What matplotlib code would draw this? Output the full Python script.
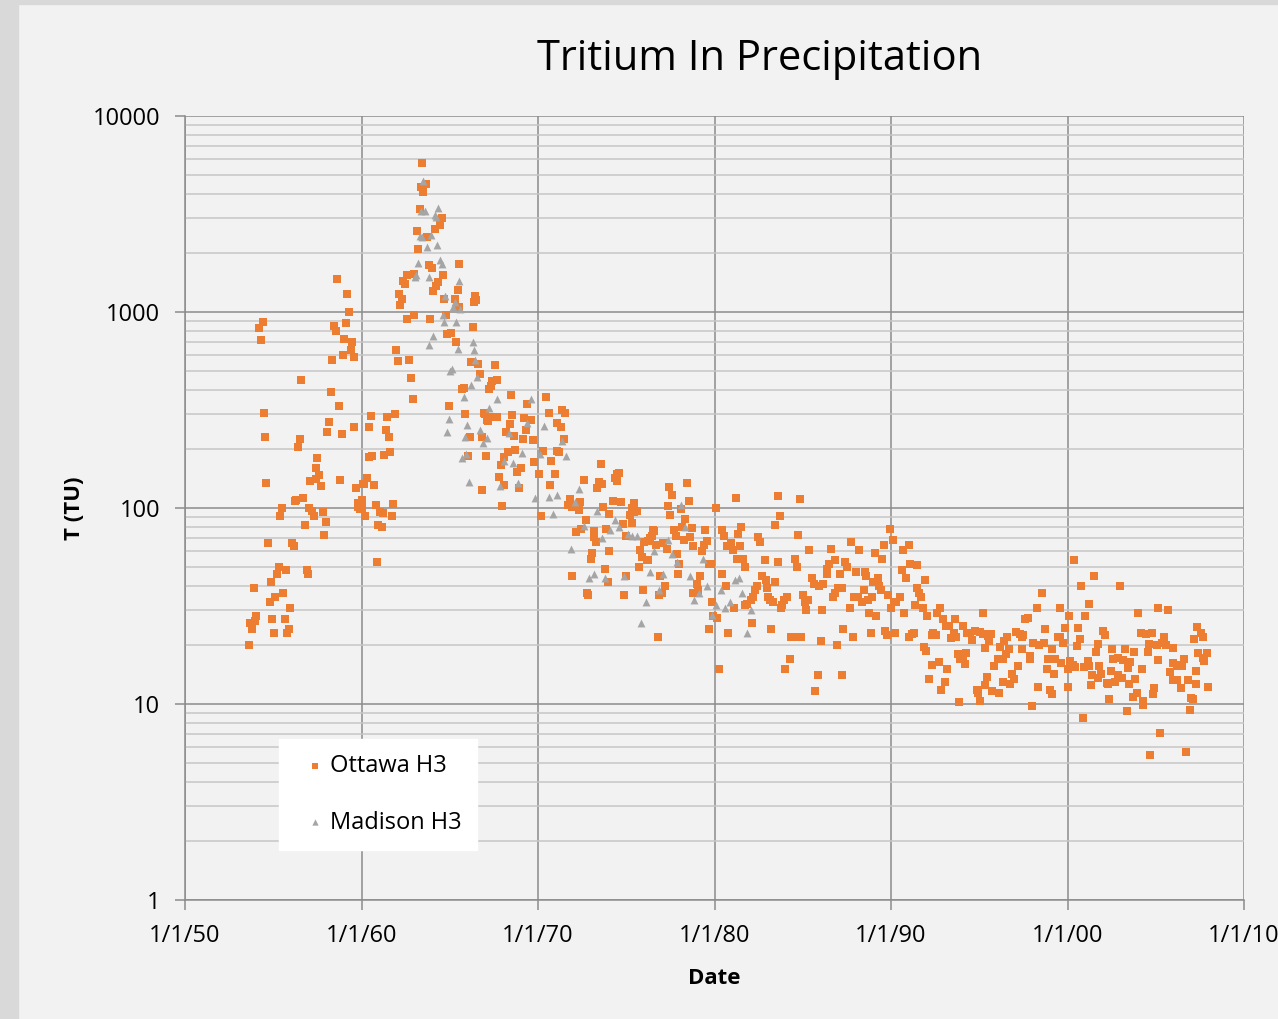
import numpy as np
import matplotlib
matplotlib.use("Agg")
import matplotlib.pyplot as plt
from matplotlib.patches import Rectangle
from matplotlib.ticker import FixedLocator, NullFormatter

plt.rcParams['font.family'] = ['Open Sans', 'DejaVu Sans']

# Ottawa H3 (decimal year, TU)
ottawa = [
    (1958.6, 1470), (1959.2, 1240), (1959.3, 1000), (1954.4, 890), (1954.2, 830), (1954.3, 722),
    (1958.45, 850), (1958.57, 800), (1959.1, 880), (1959.0, 725), (1959.45, 700), (1959.4, 640),
    (1958.95, 600), (1959.55, 590), (1958.35, 570), (1956.6, 450), (1958.3, 390), (1958.7, 330),
    (1954.45, 307), (1958.15, 275), (1958.05, 245), (1958.9, 238), (1959.6, 260), (1954.55, 230),
    (1956.5, 225), (1956.4, 205), (1957.5, 180), (1957.4, 160), (1957.6, 148), (1957.1, 138),
    (1957.45, 140), (1957.7, 130), (1958.8, 139), (1954.6, 134), (1956.7, 113), (1956.25, 108),
    (1956.3, 110), (1959.7, 127), (1960.1, 132), (1960.05, 110), (1959.8, 106), (1959.8, 101),
    (1959.9, 99), (1960.2, 91), (1955.5, 100), (1955.4, 91), (1957.05, 100), (1957.2, 97),
    (1957.3, 91), (1957.8, 95), (1956.8, 82), (1958.0, 85), (1957.9, 73), (1954.7, 66),
    (1956.05, 66), (1956.15, 64), (1955.3, 50), (1955.7, 48), (1955.2, 46), (1956.9, 48),
    (1956.95, 46), (1954.9, 42), (1953.9, 39), (1955.55, 37), (1955.1, 35), (1954.8, 33),
    (1955.95, 31), (1954.05, 28), (1953.95, 26.5), (1953.7, 26), (1954.95, 27), (1955.65, 27),
    (1953.8, 24), (1955.9, 24), (1955.8, 23), (1955.05, 23), (1953.6, 20),
    # 1960s peak
    (1963.45, 5780), (1963.35, 4360), (1963.65, 4520), (1963.5, 4110), (1963.3, 3340), (1964.55, 3020),
    (1964.45, 2790), (1964.15, 2640), (1963.15, 2580), (1963.7, 2410), (1963.2, 2100), (1963.8, 1740),
    (1964.0, 1680), (1965.55, 1760), (1962.55, 1550), (1962.35, 1440), (1962.45, 1390), (1963.0, 1560),
    (1964.6, 1540), (1964.35, 1420), (1964.2, 1360), (1964.05, 1280), (1965.45, 1300), (1962.1, 1240),
    (1962.3, 1170), (1962.2, 1090), (1964.7, 1160), (1965.3, 1160), (1965.55, 1060), (1966.45, 1200),
    (1966.5, 1150), (1966.4, 1120), (1962.95, 970), (1962.6, 920), (1963.9, 920), (1964.8, 970),
    (1966.3, 840), (1964.85, 770), (1965.05, 785), (1965.35, 700), (1961.95, 640), (1962.05, 560),
    (1962.7, 570), (1966.2, 555), (1966.6, 545), (1966.7, 485), (1962.8, 460), (1965.7, 405),
    (1965.8, 410), (1967.2, 405), (1962.9, 360), (1964.95, 333), (1960.55, 295), (1961.45, 290),
    (1961.9, 300), (1965.85, 300), (1967.0, 300), (1967.1, 280), (1960.45, 260), (1961.4, 250),
    (1961.55, 230), (1966.15, 230), (1966.8, 230), (1960.4, 181), (1960.6, 184), (1961.3, 187),
    (1961.6, 193), (1966.05, 184), (1967.05, 184), (1960.3, 143), (1960.15, 132), (1960.7, 131),
    (1966.85, 124), (1960.0, 100), (1960.8, 104), (1961.8, 105), (1961.05, 95), (1961.2, 94),
    (1961.7, 91), (1960.95, 82), (1961.15, 80), (1960.9, 53),
    # late 1960s - early 1970s
    (1967.55, 537), (1967.65, 451), (1967.4, 446), (1967.35, 420), (1968.45, 376), (1970.45, 368),
    (1969.35, 340), (1966.95, 304), (1967.15, 279), (1967.35, 291), (1967.7, 291), (1968.55, 297),
    (1970.6, 306), (1971.35, 318), (1971.55, 304), (1968.4, 268), (1969.2, 289), (1969.6, 281),
    (1971.1, 270), (1971.3, 259), (1969.3, 249), (1968.2, 243), (1968.65, 234), (1969.15, 224),
    (1969.7, 222), (1971.45, 225), (1968.7, 197), (1968.3, 193), (1970.3, 195), (1971.05, 196),
    (1971.2, 192), (1968.1, 182), (1967.9, 165), (1969.75, 172), (1970.75, 174), (1969.05, 160),
    (1968.8, 152), (1970.05, 149), (1970.97, 149), (1967.8, 144), (1972.6, 139), (1973.55, 168),
    (1973.45, 135), (1973.65, 132), (1973.35, 127), (1968.05, 131), (1968.9, 126), (1970.7, 131),
    (1971.8, 111), (1971.7, 103), (1971.9, 101), (1972.4, 107), (1972.3, 98), (1967.95, 102),
    (1973.7, 101), (1974.0, 93), (1970.15, 91), (1972.7, 87), (1972.15, 75), (1972.45, 78),
    (1973.85, 78), (1973.2, 76), (1973.15, 71), (1973.3, 67), (1973.05, 59), (1973.0, 55),
    (1974.0, 60), (1973.8, 49), (1971.95, 45), (1972.8, 37), (1972.85, 36),
    # 1974 - 1980
    (1974.45, 149), (1974.6, 151), (1974.35, 142), (1974.5, 138), (1977.45, 128), (1977.6, 116),
    (1978.45, 134), (1974.25, 108), (1974.7, 107), (1975.45, 106), (1975.35, 100), (1975.6, 97),
    (1975.45, 95), (1977.35, 102), (1977.5, 92), (1978.55, 108), (1975.2, 92), (1975.3, 84),
    (1980.1, 100), (1978.1, 99), (1978.35, 88), (1978.15, 80), (1978.7, 79), (1974.8, 83),
    (1976.5, 77), (1976.6, 76), (1976.45, 72), (1976.35, 70), (1977.7, 77), (1977.8, 72),
    (1979.45, 77), (1980.45, 77), (1980.55, 72), (1975.0, 72), (1978.25, 69), (1978.6, 71),
    (1979.55, 68), (1976.0, 67), (1976.25, 68), (1976.7, 65), (1977.1, 66), (1977.3, 62),
    (1978.8, 64), (1979.3, 60), (1979.4, 65), (1980.7, 64), (1975.8, 61), (1977.85, 58),
    (1975.9, 56), (1976.25, 54), (1976.15, 54), (1978.0, 52), (1979.7, 52), (1979.8, 52),
    (1975.7, 50), (1980.4, 46), (1977.95, 46), (1979.2, 45), (1975.0, 45), (1976.9, 45),
    (1973.95, 42), (1977.2, 40), (1979.0, 41), (1979.05, 38), (1980.65, 40), (1975.95, 38),
    (1977.05, 37), (1976.85, 36), (1978.8, 37), (1974.9, 36), (1979.85, 33), (1980.15, 27.5),
    (1979.9, 28), (1979.7, 24), (1980.75, 23), (1976.8, 22), (1980.25, 15),
    # 1980s
    (1981.2, 112), (1983.6, 115), (1984.85, 111), (1983.7, 91), (1983.45, 82), (1981.5, 80),
    (1981.35, 74), (1984.75, 73), (1982.45, 71), (1982.6, 67), (1980.95, 66), (1981.45, 64),
    (1981.05, 61), (1985.35, 61), (1986.6, 62), (1981.25, 55), (1981.6, 55), (1981.7, 50),
    (1982.85, 54), (1983.6, 53), (1984.55, 55), (1984.7, 50), (1986.8, 54), (1986.5, 52),
    (1986.4, 49), (1986.35, 46), (1987.4, 53), (1987.5, 50), (1987.1, 46), (1982.7, 45),
    (1982.9, 43), (1983.4, 42), (1985.5, 44), (1985.65, 41), (1985.9, 40), (1986.15, 41),
    (1982.4, 40), (1982.95, 39), (1987.25, 39), (1987.0, 39), (1986.85, 37), (1986.7, 35),
    (1982.3, 38), (1982.2, 35), (1982.05, 34), (1981.85, 32.5), (1981.75, 32), (1983.05, 35),
    (1983.15, 34), (1983.3, 33), (1984.1, 35), (1983.95, 34), (1983.85, 32), (1983.75, 31),
    (1985.0, 36), (1985.3, 34), (1985.15, 33), (1985.2, 30), (1981.1, 31), (1986.1, 30),
    (1987.65, 31), (1982.1, 26), (1983.2, 24), (1987.3, 24), (1984.35, 22), (1984.6, 22),
    (1984.9, 22), (1986.05, 21), (1986.95, 20), (1984.3, 17), (1984.0, 15), (1985.85, 14),
    (1987.2, 14), (1985.7, 11.6),
    (1989.95, 78), (1990.1, 69), (1987.75, 67), (1988.2, 61), (1989.1, 59), (1989.5, 55),
    (1989.6, 65), (1990.7, 61), (1991.0, 65), (1988.0, 47), (1988.5, 47), (1988.6, 45),
    (1991.1, 52), (1991.45, 51), (1990.6, 48), (1990.85, 44), (1991.9, 43), (1989.25, 44),
    (1989.0, 42), (1989.3, 40), (1989.45, 38), (1988.45, 38), (1991.5, 39), (1991.6, 37),
    (1991.7, 35), (1989.85, 36), (1987.9, 35), (1988.15, 35), (1988.35, 33), (1988.7, 34),
    (1988.9, 35), (1990.5, 35), (1990.15, 33), (1990.3, 33), (1990.0, 31), (1991.35, 32),
    (1991.8, 31), (1992.8, 31), (1992.6, 29), (1988.75, 29), (1989.15, 28), (1990.75, 29),
    (1992.05, 28), (1992.95, 27), (1993.1, 25), (1993.3, 25), (1993.6, 27), (1994.1, 25),
    (1988.85, 23), (1989.65, 23.5), (1989.8, 22.5), (1990.25, 23), (1991.3, 23), (1991.2, 22.7),
    (1991.0, 22), (1992.4, 23), (1992.35, 22.5), (1992.55, 22.5), (1993.55, 23), (1993.4, 21.6),
    (1993.7, 22), (1994.3, 23), (1987.85, 22), (1991.85, 19.5), (1992.0, 18.6), (1993.8, 18),
    (1993.9, 17), (1994.1, 17.5), (1994.25, 18.2), (1994.2, 16), (1992.3, 15.8), (1992.7, 16.4),
    (1993.2, 15), (1992.15, 13.4), (1993.05, 13), (1992.85, 11.8), (1993.85, 10.2),
    # 1994 - 2001
    (2000.35, 54), (2000.75, 40), (2001.2, 32.5), (1998.55, 37), (1995.2, 29), (1998.25, 31),
    (1999.6, 31), (2001.0, 28), (1997.6, 27), (1997.75, 27.5), (2000.1, 28), (1994.5, 23),
    (1994.75, 23.5), (1994.6, 21.2), (1995.05, 23.2), (1995.2, 22.7), (1995.5, 22.2), (1995.65, 22.7),
    (1995.55, 21), (1996.4, 21), (1996.6, 22), (1997.1, 23.2), (1997.3, 22.7), (1997.4, 22),
    (1997.5, 22.5), (1998.75, 24), (1999.85, 24.3), (2000.6, 24.3), (1999.45, 22), (1999.55, 22),
    (2000.7, 21.4), (2000.55, 19.8), (1999.75, 20.5), (1995.3, 19.4), (1996.15, 19.5), (1996.7, 19),
    (1998.05, 20.5), (1998.4, 20), (1998.65, 20.4), (1999.1, 19), (1997.4, 19), (1996.5, 18),
    (1996.35, 17), (1996.05, 17), (1997.9, 17.5), (1997.85, 17), (1998.9, 17), (1999.3, 17),
    (1999.65, 16.2), (2000.15, 16.5), (2000.3, 15.8), (2000.4, 15.5), (2000.0, 15), (2000.95, 15.5),
    (2001.15, 16.5), (1995.85, 15.6), (1997.2, 15.6), (1998.85, 15), (1999.25, 14.3), (1996.85, 14.3),
    (1996.95, 13.4), (1996.75, 12.7), (1995.45, 13.8), (1995.35, 12.5), (1996.35, 13), (1994.85, 11.8),
    (1994.95, 11.4), (1995.05, 10.3), (1995.75, 11.7), (1996.1, 11.4), (1998.35, 12.2), (1999.0, 11.8),
    (1999.15, 11.3), (2000.05, 12.2), (1998.0, 9.8), (2000.85, 8.5),
    # 2001 - 2008
    (2001.5, 45), (2003.0, 40), (2005.1, 31), (2005.7, 30), (2004.0, 29), (2002.0, 23.5),
    (2002.1, 22.5), (2004.15, 23), (2004.45, 22.7), (2004.8, 23), (2005.45, 22), (2007.35, 24.7),
    (2007.55, 23), (2007.65, 22), (2007.15, 21.4), (2001.7, 20.3), (2001.6, 18.4), (2002.5, 19),
    (2003.25, 19), (2003.75, 18.4), (2004.6, 20.3), (2005.05, 20), (2005.35, 20.4), (2005.6, 20),
    (2005.95, 19.4), (2004.55, 18.4), (2007.4, 18.2), (2007.9, 18.3), (2007.65, 17.1), (2007.75, 16.6),
    (2002.55, 17), (2002.85, 17.2), (2003.15, 16.7), (2003.55, 16.4), (2003.4, 15.3), (2001.2, 15.7),
    (2001.8, 15.7), (2005.15, 16.7), (2006.0, 16.2), (2006.3, 15.8), (2006.6, 16.9), (2006.5, 15.7),
    (2006.2, 15.7), (2004.2, 15), (2005.8, 14.6), (2007.3, 14.7), (2002.45, 14.7), (2001.4, 14.1),
    (2001.9, 14.2), (2001.7, 13.5), (2001.35, 12.5), (2002.25, 12.8), (2002.3, 12.7), (2002.7, 13),
    (2002.85, 14), (2003.1, 13.6), (2003.5, 12.7), (2003.85, 13.4), (2005.95, 13.3), (2006.2, 13.2),
    (2006.45, 12.1), (2006.85, 13.2), (2007.3, 12.6), (2007.95, 12.2), (2004.9, 12.1), (2004.85, 11.3),
    (2003.95, 11.4), (2003.7, 10.8), (2004.3, 10.3), (2004.25, 9.9), (2002.35, 10.6), (2007.0, 10.7),
    (2007.1, 10.6), (2006.95, 9.3), (2003.35, 9.2), (2005.25, 7.1), (2004.7, 5.5), (2006.7, 5.7),
]

# Madison H3 (decimal year, TU)
madison = [
    (1963.5, 4680), (1963.35, 3270), (1963.6, 3290), (1964.35, 3400), (1964.15, 3130), (1964.2, 3050),
    (1963.3, 2450), (1963.45, 2410), (1963.95, 2460), (1963.7, 2140), (1964.3, 2190), (1963.2, 1780),
    (1964.45, 1840), (1964.55, 1760), (1963.1, 1540), (1963.05, 1500), (1963.8, 1500), (1965.55, 1440),
    (1964.75, 1200), (1965.3, 1130), (1965.2, 1060), (1965.6, 1040), (1964.6, 960), (1964.7, 890),
    (1965.35, 890), (1964.05, 750), (1963.85, 680), (1966.3, 700), (1966.4, 640), (1965.45, 650),
    (1966.45, 570), (1965.1, 510), (1965.0, 500), (1966.55, 465), (1966.2, 425), (1965.8, 368),
    (1967.2, 325), (1964.95, 284), (1964.85, 245), (1966.0, 265), (1966.7, 249), (1965.85, 229),
    (1966.9, 215), (1967.1, 228), (1965.9, 189), (1965.7, 179), (1966.1, 135),
    (1967.65, 360), (1969.6, 360), (1969.4, 270), (1970.35, 261), (1968.35, 240), (1971.35, 219),
    (1969.1, 191), (1970.1, 188), (1971.6, 185), (1968.1, 174), (1968.6, 170), (1968.85, 134),
    (1967.85, 129), (1972.35, 125), (1969.85, 112), (1970.6, 114), (1971.1, 116), (1972.1, 107),
    (1970.85, 93), (1973.35, 96), (1972.6, 81), (1973.6, 70), (1971.85, 62), (1972.9, 44),
    (1973.15, 46), (1973.8, 44),
    (1978.1, 103), (1974.35, 87), (1974.6, 80), (1974.1, 77), (1978.35, 80), (1975.1, 74),
    (1975.35, 72), (1975.6, 72), (1977.35, 69), (1976.6, 60), (1977.6, 58), (1977.85, 53),
    (1979.35, 55), (1976.35, 47), (1977.1, 46), (1978.6, 45), (1974.85, 45), (1979.6, 40),
    (1980.35, 38), (1976.85, 38), (1979.1, 37), (1978.85, 34), (1976.1, 33), (1980.1, 32),
    (1980.6, 31), (1979.85, 28.5), (1975.85, 26),
    (1981.15, 43), (1981.4, 44), (1981.55, 37), (1980.85, 33), (1982.05, 30), (1981.85, 23),
]

x_ticks = [1950, 1960, 1970, 1980, 1990, 2000, 2010]
x_labels = ['1/1/50', '1/1/60', '1/1/70', '1/1/80', '1/1/90', '1/1/00', '1/1/10']
y_ticks = [1, 10, 100, 1000, 10000]
y_labels = ['1', '10', '100', '1000', '10000']

ott = np.array(ottawa)
mad = np.array(madison)

bg = '#f2f2f2'
fig = plt.figure(figsize=(12.78, 10.19), dpi=100, facecolor=bg)
# grey frame strips at left and top edge
fig.patches.append(Rectangle((0, 0), 18 / 1278, 1, transform=fig.transFigure, color='#d9d9d9', zorder=0))
fig.patches.append(Rectangle((0, 1 - 4 / 1019), 1, 4 / 1019, transform=fig.transFigure, color='#d9d9d9', zorder=0))

ax = fig.add_axes([185 / 1278, 1 - 900 / 1019, 1059 / 1278, 784 / 1019])
ax.set_facecolor(bg)
ax.set_yscale('log')
ax.set_xlim(1950, 2010)
ax.set_ylim(1, 10000)

ax.yaxis.set_major_locator(FixedLocator(y_ticks))
ax.set_yticklabels(y_labels)
ax.yaxis.set_minor_locator(FixedLocator([m * 10 ** e for e in range(0, 4) for m in range(2, 10)]))
ax.yaxis.set_minor_formatter(NullFormatter())
ax.set_xticks(x_ticks)
ax.set_xticklabels(x_labels)

ax.grid(True, which='major', axis='both', color='#8c8c8c', lw=1.1)
ax.grid(True, which='minor', axis='y', color='#c6c6c6', lw=1.1)
ax.set_axisbelow(True)

for s in ['top', 'right']:
    ax.spines[s].set_visible(False)
for s in ['left', 'bottom']:
    ax.spines[s].set_color('#8c8c8c')
    ax.spines[s].set_linewidth(1.1)
ax.tick_params(which='major', length=7, width=1.1, color='#8c8c8c', labelsize=17)
ax.tick_params(axis='y', pad=11)
ax.tick_params(axis='x', pad=10)
ax.tick_params(which='minor', length=0)

ax.scatter(ott[:, 0], ott[:, 1], marker='s', s=27, color='#ed7d31', linewidths=0,
           label='Ottawa H3', zorder=3)
ax.scatter(mad[:, 0], mad[:, 1], marker='^', s=32, color='#a5a5a5', linewidths=0,
           label='Madison H3', zorder=3)

fig.text(760 / 1278, 1 - 59 / 1019, 'Tritium In Precipitation', fontsize=30, ha='center', va='center')
ax.set_ylabel('T (TU)', fontsize=16, fontweight='bold', labelpad=5)
ax.set_xlabel('Date', fontsize=16, fontweight='bold', labelpad=15)

leg = ax.legend(loc='lower left', bbox_to_anchor=(0.0888, 0.0638), fontsize=17,
                frameon=True, fancybox=False, facecolor='white', edgecolor='white',
                framealpha=1, markerscale=0.8, handletextpad=-0.24, labelspacing=1.38,
                borderpad=0.65, borderaxespad=0, handlelength=1.75)

fig.savefig('out.png', dpi=100, facecolor=bg)
